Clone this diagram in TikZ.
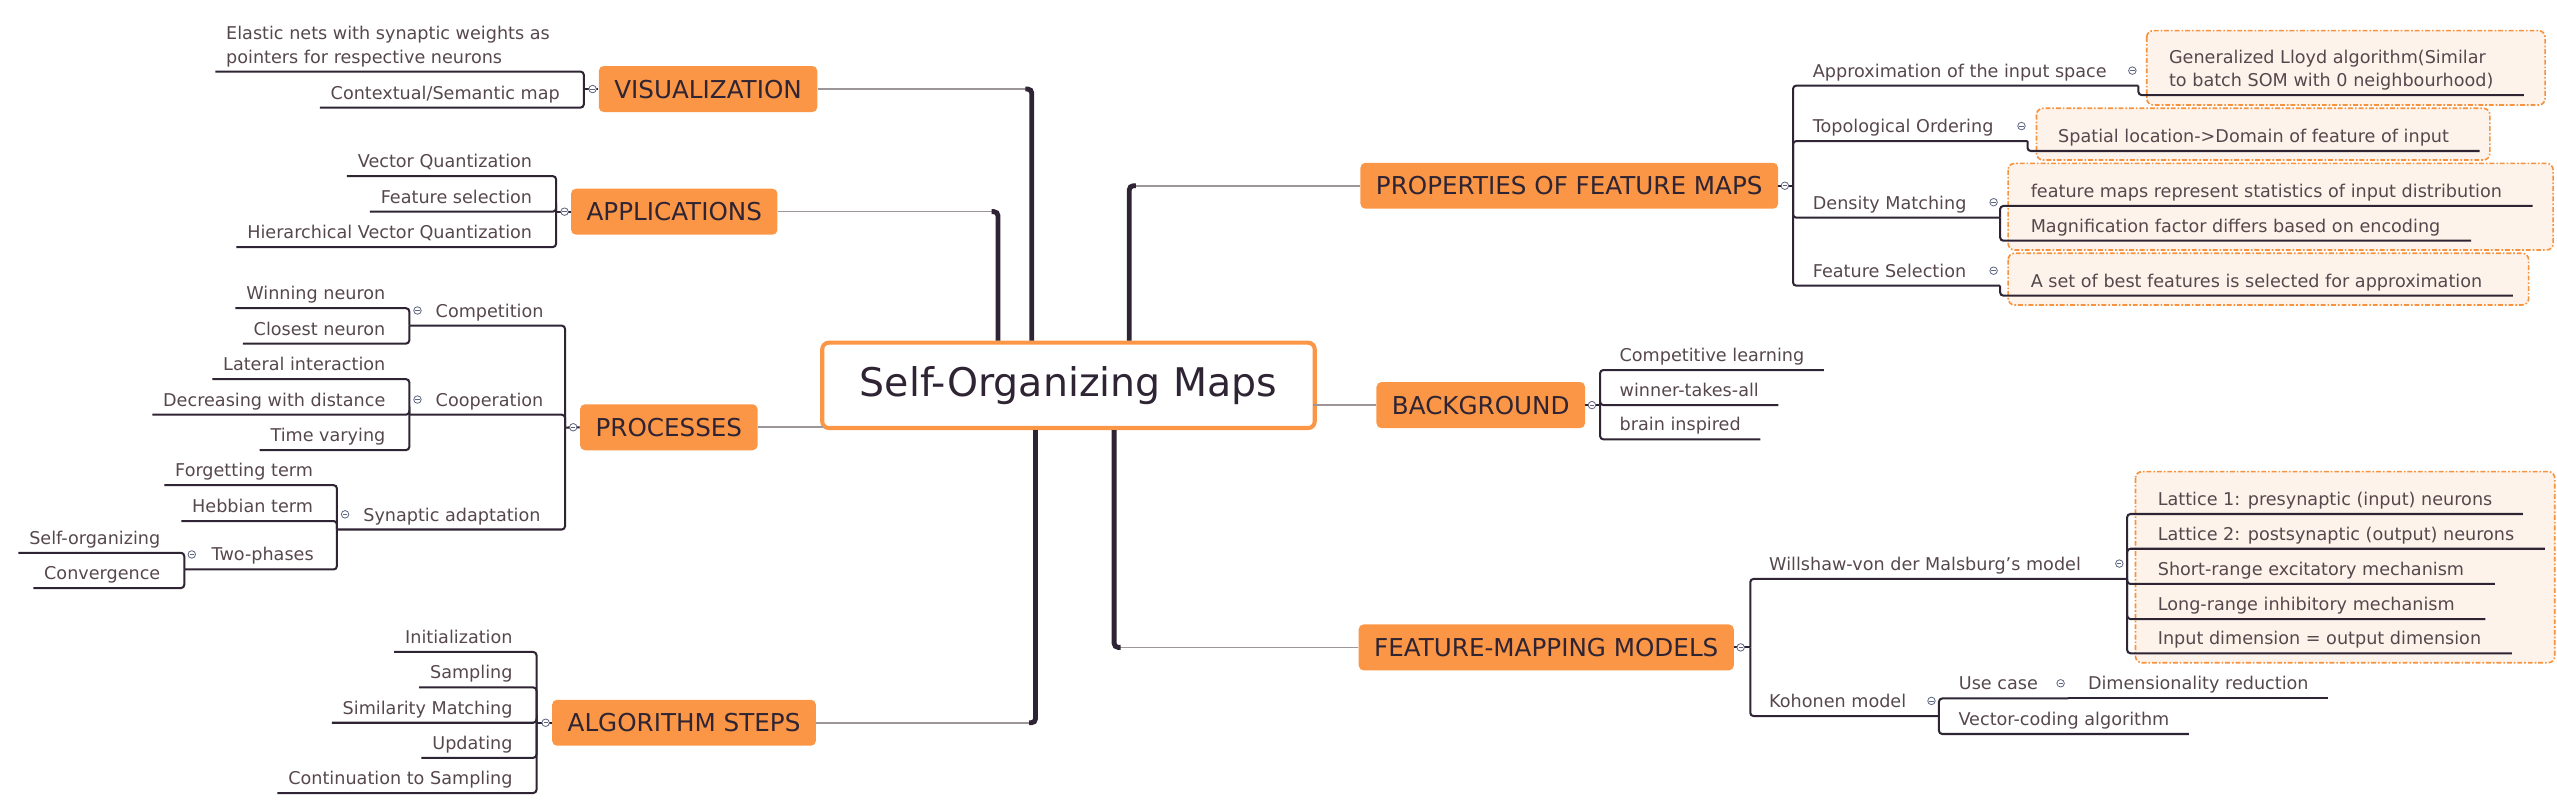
\documentclass[tikz,border=0pt]{standalone}
\usepackage{fontspec}
\setmainfont{DejaVu Sans}
\usetikzlibrary{calc}

\definecolor{mmorange}{HTML}{FB9646}
\definecolor{inkdark}{HTML}{2E2433}
\definecolor{inksub}{HTML}{56474D}
\definecolor{twiggray}{HTML}{9C959A}
\definecolor{bndline}{HTML}{F7923E}
\definecolor{bndfill}{HTML}{FEF3EA}
\definecolor{markline}{HTML}{5D6580}

\begin{document}
\begin{tikzpicture}[x=1pt,y=-1pt]
   \tikzstyle{root}=[draw=mmorange, line width=2.5pt, rounded corners=4pt, fill=white, text=inkdark, font=\fontsize{24.2}{29}\selectfont, minimum width=302pt, minimum height=52.3pt, inner sep=0]
   \tikzstyle{branch}=[fill=mmorange, rounded corners=3pt, text=inkdark, font=\fontsize{15.1}{18}\selectfont, minimum height=28.2pt, inner xsep=9.5pt, inner ysep=0]
   \tikzstyle{topic}=[text=inksub, font=\fontsize{10.8}{14.2}\selectfont, text height=.76em, text depth=.24em, inner ysep=2.6pt, inner xsep=0, anchor=south west]
   \tikzstyle{lleaf}=[topic, inner xsep=6.5pt, anchor=south east]
   \tikzstyle{rleaf}=[topic, inner xsep=11.8pt]
   \tikzstyle{bleaf}=[topic, inner xsep=18.6pt]
   \tikzstyle{uline}=[draw=inkdark, line width=1.25pt, rounded corners=2pt]
   \tikzstyle{stem}=[draw=inkdark, line width=3pt, rounded corners=2.5pt]
   \tikzstyle{twig}=[draw=twiggray, line width=1pt]
   \tikzstyle{bound}=[draw=bndline, fill=bndfill, line width=1pt, rounded corners=4pt, dash pattern=on 3pt off 1.2pt on 1pt off 1.2pt]
   \tikzstyle{fold}=[circle, draw=markline, fill=white, line width=.5pt, minimum size=4.6pt, inner sep=0, path picture={\draw[markline, line width=.45pt] ([xshift=-1.3pt]path picture bounding box.center) -- ([xshift=1.3pt]path picture bounding box.center);}]

\useasboundingbox (0,0) rectangle (1568,495.5);

% boundaries
\draw[bound] (1316.4,18.8) rectangle (1560.7,64.4);
\draw[bound] (1248.8,66.4) rectangle (1526.8,98.1);
\draw[bound] (1231.4,100.2) rectangle (1565.6,153.3);
\draw[bound] (1231.4,155.3) rectangle (1550.6,187);
\draw[bound] (1309.5,289.2) rectangle (1566.6,406.4);

\node[root] (som) at (655.2,236.3) {Self-Organizing Maps};

% visualization
\coordinate (jVis) at (358,54.6);
\node[branch, anchor=west] (vis) at (367,54.6) {VISUALIZATION};
\node[topic, align=left, inner xsep=6.5pt] (vis1) at (132,43.9) {Elastic nets with synaptic weights as\\pointers for respective neurons};
\node[lleaf] (vis2) at (350,66) {Contextual/Semantic map};

% applications
\coordinate (jApp) at (341,129.8);
\node[branch, anchor=west] (app) at (350,129.8) {APPLICATIONS};
\node[lleaf] (app1) at (333,108) {Vector Quantization};
\node[lleaf] (app2) at (333,129.8) {Feature selection};
\node[lleaf] (app3) at (333,151.5) {Hierarchical Vector Quantization};

% processes
\coordinate (jProc) at (346.5,262.2);
\node[branch, anchor=west] (proc) at (355.5,262) {PROCESSES};
\coordinate (jComp) at (251,199.7);
\node[topic] (comp) at (267,199.7) {Competition};
\node[lleaf] (comp1) at (243,189) {Winning neuron};
\node[lleaf] (comp2) at (243,210.7) {Closest neuron};
\coordinate (jCoop) at (251,254.3);
\node[topic] (coop) at (267,254.3) {Cooperation};
\node[lleaf] (coop1) at (243,232.5) {Lateral interaction};
\node[lleaf] (coop2) at (243,254.3) {Decreasing with distance};
\node[lleaf] (coop3) at (243,276) {Time varying};
\coordinate (jSyn) at (206.6,324.7);
\node[topic] (syn) at (222.6,324.7) {Synaptic adaptation};
\node[lleaf] (syn1) at (198.6,297.5) {Forgetting term};
\node[lleaf] (syn2) at (198.6,319.5) {Hebbian term};
\coordinate (jTwo) at (113,349.2);
\node[topic] (two) at (129.6,349.2) {Two-phases};
\node[lleaf] (two1) at (105,339) {Self-organizing};
\node[lleaf] (two2) at (105,360.6) {Convergence};

% algorithm steps
\coordinate (jAlg) at (329,443.2);
\node[branch, anchor=west] (alg) at (338.4,443.2) {ALGORITHM STEPS};
\node[lleaf] (alg1) at (321,399.8) {Initialization};
\node[lleaf] (alg2) at (321,421.5) {Sampling};
\node[lleaf] (alg3) at (321,443.2) {Similarity Matching};
\node[lleaf] (alg4) at (321,464.7) {Updating};
\node[lleaf] (alg5) at (321,486.3) {Continuation to Sampling};

% properties of feature maps
\coordinate (jProp) at (1099.5,113.9);
\node[branch, anchor=east] (prp) at (1090.5,113.9) {PROPERTIES OF FEATURE MAPS};
\coordinate (jApx) at (1311.3,52.5);
\node[topic] (apx) at (1111.5,52.5) {Approximation of the input space};
\node[bleaf, align=left] (apx1) at (1311.3,58.3) {Generalized Lloyd algorithm(Similar\\to batch SOM with 0 neighbourhood)};
\coordinate (jTop) at (1243.3,86.5);
\node[topic] (top) at (1111.5,86.5) {Topological Ordering};
\node[bleaf] (top1) at (1243.3,92.6) {Spatial location->Domain of feature of input};
\coordinate (jDen) at (1226.5,133.5);
\node[topic] (den) at (1111.5,133.5) {Density Matching};
\node[bleaf] (den1) at (1226.5,126.3) {feature maps represent statistics of input distribution};
\node[bleaf] (den2) at (1226.5,147.6) {Magnification factor differs based on encoding};
\coordinate (jFsl) at (1226.5,175.2);
\node[topic] (fsl) at (1111.5,175.2) {Feature Selection};
\node[bleaf] (fsl1) at (1226.5,181.3) {A set of best features is selected for approximation};

% background
\coordinate (jBg) at (981.2,248.4);
\node[branch, anchor=east] (bg) at (972.2,248.4) {BACKGROUND};
\node[rleaf] (bg1) at (981.2,226.9) {Competitive learning};
\node[rleaf] (bg2) at (981.2,248.4) {winner-takes-all};
\node[rleaf] (bg3) at (981.2,269.4) {brain inspired};

% feature-mapping models
\coordinate (jFm) at (1073.3,397);
\node[branch, anchor=east] (fm) at (1063.4,397) {FEATURE-MAPPING MODELS};
\coordinate (jWil) at (1304.4,355);
\node[topic] (wil) at (1084.7,355) {Willshaw-von der Malsburg's model};
\node[bleaf] (wil1) at (1304.4,315.2) {Lattice 1: presynaptic (input) neurons};
\node[bleaf] (wil2) at (1304.4,336.5) {Lattice 2: postsynaptic (output) neurons};
\node[bleaf] (wil3) at (1304.4,358.1) {Short-range excitatory mechanism};
\node[bleaf] (wil4) at (1304.4,379.6) {Long-range inhibitory mechanism};
\node[bleaf] (wil5) at (1304.4,400.6) {Input dimension = output dimension};
\coordinate (jKoh) at (1189,439.1);
\node[topic] (koh) at (1084.7,439.1) {Kohonen model};
\coordinate (jUse) at (1268.4,428.3);
\node[topic] (use) at (1201,428.3) {Use case};
\node[rleaf] (use1) at (1268.4,428.3) {Dimensionality reduction};
\node[rleaf] (koh2) at (1189,450.1) {Vector-coding algorithm};

% trunk lines
\coordinate (sVis) at ([xshift=-22.5pt]som.north);
\coordinate (sApp) at ([xshift=-43.2pt]som.north);
\coordinate (sProp) at ([xshift=37.3pt]som.north);
\coordinate (sAlg) at ([xshift=-20.2pt]som.south);
\coordinate (sFm) at ([xshift=28pt]som.south);
\draw[twig] (vis.east) -- (sVis |- vis.east);
\draw[twig] (app.east) -- (sApp |- app.east);
\draw[twig] (alg.east) -- (sAlg |- alg.east);
\draw[twig] (prp.west) -- (sProp |- prp.west);
\draw[twig] (fm.west) -- (sFm |- fm.west);
\draw[twig] (proc.east) -- ($(som.west |- proc.east)+(2,0)$);
\draw[twig] ($(som.east |- bg.west)+(-2,0)$) -- (bg.west);
\draw[stem] (sVis) |- ($(sVis |- vis.east)+(-4,0)$);
\draw[stem] (sApp) |- ($(sApp |- app.east)+(-4,0)$);
\draw[stem] (sAlg) |- ($(sAlg |- alg.east)+(-4,0)$);
\draw[stem] (sProp) |- ($(sProp |- prp.west)+(4,0)$);
\draw[stem] (sFm) |- ($(sFm |- fm.west)+(4,0)$);

% brackets and underlines
\draw[uline] (jVis) -- (vis.west);
\draw[uline] (jVis) |- (vis1.south west);
\draw[uline] (jVis) |- (vis2.south west);
\draw[uline] (jApp) -- (app.west);
\draw[uline] (jApp) |- (app1.south west);
\draw[uline] (jApp) |- (app2.south west);
\draw[uline] (jApp) |- (app3.south west);
\draw[uline] (jProc) -- (proc.west);
\draw[uline] (jProc) |- (jComp);
\draw[uline] (jProc) |- (jCoop);
\draw[uline] (jProc) |- (jSyn);
\draw[uline] (jComp) |- (comp1.south west);
\draw[uline] (jComp) |- (comp2.south west);
\draw[uline] (jCoop) |- (coop1.south west);
\draw[uline] (jCoop) |- (coop2.south west);
\draw[uline] (jCoop) |- (coop3.south west);
\draw[uline] (jSyn) |- (syn1.south west);
\draw[uline] (jSyn) |- (syn2.south west);
\draw[uline] (jSyn) |- (jTwo);
\draw[uline] (jTwo) |- (two1.south west);
\draw[uline] (jTwo) |- (two2.south west);
\draw[uline] (jAlg) -- (alg.west);
\draw[uline] (jAlg) |- (alg1.south west);
\draw[uline] (jAlg) |- (alg2.south west);
\draw[uline] (jAlg) |- (alg3.south west);
\draw[uline] (jAlg) |- (alg4.south west);
\draw[uline] (jAlg) |- (alg5.south west);
\draw[uline] (jProp) -- (prp.east);
\draw[uline] (jProp) |- (jApx);
\draw[uline] (jProp) |- (jTop);
\draw[uline] (jProp) |- (jDen);
\draw[uline] (jProp) |- (jFsl);
\draw[uline] (jApx) |- (apx1.south east);
\draw[uline] (jTop) |- (top1.south east);
\draw[uline] (jDen) |- (den1.south east);
\draw[uline] (jDen) |- (den2.south east);
\draw[uline] (jFsl) |- (fsl1.south east);
\draw[uline] (jBg) -- (bg.east);
\draw[uline] (jBg) |- (bg1.south east);
\draw[uline] (jBg) |- (bg2.south east);
\draw[uline] (jBg) |- (bg3.south east);
\draw[uline] (jFm) -- (fm.east);
\draw[uline] (jFm) |- (jWil);
\draw[uline] (jFm) |- (jKoh);
\draw[uline] (jWil) |- (wil1.south east);
\draw[uline] (jWil) |- (wil2.south east);
\draw[uline] (jWil) |- (wil3.south east);
\draw[uline] (jWil) |- (wil4.south east);
\draw[uline] (jWil) |- (wil5.south east);
\draw[uline] (jKoh) |- (jUse);
\draw[uline] (jUse) -- (use1.south east);
\draw[uline] (jKoh) |- (koh2.south east);

% fold markers
\node[fold] (mVis) at ([xshift=-3.6pt]vis.west) {};
\node[fold] (mApp) at ([xshift=-3.8pt]app.west) {};
\node[fold] (mProc) at ([xshift=-4pt]proc.west) {};
\node[fold] (mAlg) at ([xshift=-3.8pt]alg.west) {};
\node[fold] (mProp) at ([xshift=4pt]prp.east) {};
\node[fold] (mBg) at ([xshift=4pt]bg.east) {};
\node[fold] (mFm) at ([xshift=4pt]fm.east) {};
\node[fold] (mComp) at (256,190.4) {};
\node[fold] (mCoop) at (256,245) {};
\node[fold] (mSyn) at (211.6,315.4) {};
\node[fold] (mTwo) at (117.6,340) {};
\node[fold] (mApx) at (1307.6,43.3) {};
\node[fold] (mTop) at (1239.6,77.3) {};
\node[fold] (mDen) at (1222.5,124) {};
\node[fold] (mFsl) at (1222.5,166) {};
\node[fold] (mWil) at (1299.6,345.6) {};
\node[fold] (mKoh) at (1184.4,429.8) {};
\node[fold] (mUse) at (1263.6,419) {};

\end{tikzpicture}
\end{document}
